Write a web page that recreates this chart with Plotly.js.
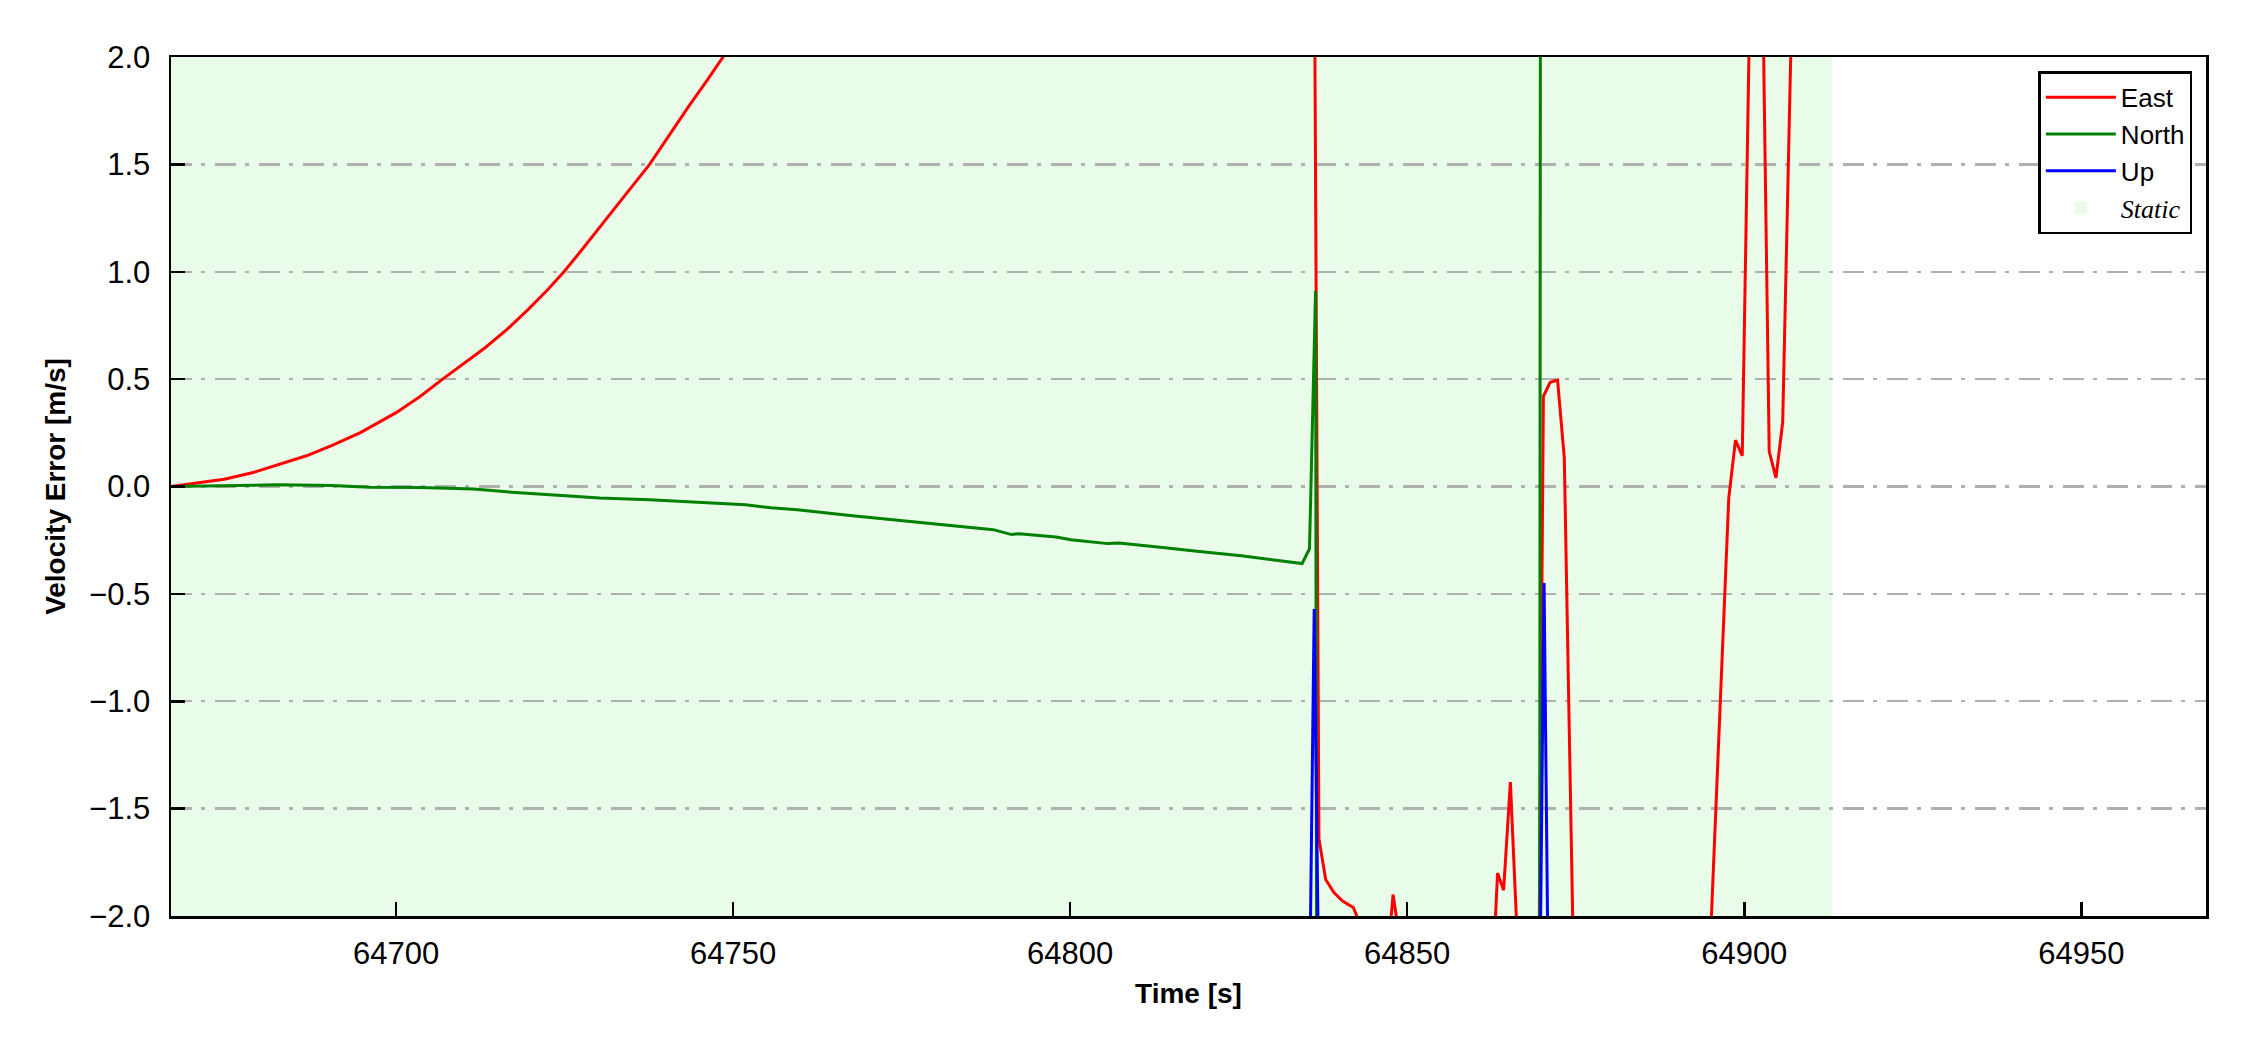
<!DOCTYPE html>
<html>
<head>
<meta charset="utf-8">
<script src="https://cdn.plot.ly/plotly-3.0.1.min.js"></script>
<style>html,body{margin:0;padding:0;background:#fff;}#chart{width:2250px;height:1050px;}</style>
</head>
<body>
<div id="chart"></div>
<script>
// ---- data ----
const tEast = [64666.6, 64670.0, 64674.5, 64678.8, 64682.5, 64686.7, 64690.5, 64694.7, 64700.0, 64703.5, 64706.9, 64710.0, 64713.2,
  64716.5, 64719.6, 64722.3, 64724.9, 64727.5, 64730.2, 64733.8, 64737.6, 64740.5, 64743.4, 64746.0, 64748.5, 64760.0, 64800.0, 64835.9,
  64836.9, 64837.9, 64839.1, 64840.4, 64842.0, 64843.8, 64846.5, 64847.9, 64849.3, 64862.5, 64863.4, 64864.3, 64865.3, 64866.6,
  64869.3, 64870.2, 64871.2, 64872.3, 64873.3, 64874.6, 64894.6, 64897.7, 64898.7, 64899.7, 64900.9, 64902.7, 64903.7, 64904.7, 64905.7, 64907.1, 64968.5];
const vEast = [0.000, 0.015, 0.034, 0.065, 0.100, 0.143, 0.192, 0.251, 0.344, 0.418, 0.500, 0.570, 0.646,
  0.733, 0.825, 0.910, 1.000, 1.100, 1.205, 1.350, 1.500, 1.635, 1.770, 1.885, 2.000, 2.600, 4.000, 4.500,
  -1.640, -1.830, -1.890, -1.930, -1.960, -2.100, -2.400, -1.900, -2.200, -2.400, -1.800, -1.880, -1.376, -2.300,
  -3.200, 0.420, 0.485, 0.496, 0.133, -2.100, -2.400, -0.054, 0.216, 0.143, 2.400, 2.400, 0.164, 0.040, 0.300, 2.300, 3.000];

const tNorth = [64666.6, 64674.5, 64682.5, 64690.4, 64696.1, 64703.5, 64711.5, 64717.7, 64724.5, 64730.2, 64737.6, 64746.1, 64751.8, 64755.6,
  64759.5, 64767.7, 64776.0, 64782.5, 64788.6, 64791.3, 64792.4, 64797.9, 64800.1, 64805.6, 64807.2, 64814.4, 64818.8, 64825.4, 64830.8,
  64834.4, 64835.5, 64836.4, 64837.4, 64869.2, 64870.2, 64968.5];
const vNorth = [0.000, 0.003, 0.008, 0.005, -0.003, -0.005, -0.012, -0.028, -0.043, -0.054, -0.062, -0.075, -0.085, -0.099,
  -0.108, -0.136, -0.163, -0.183, -0.201, -0.224, -0.220, -0.235, -0.248, -0.266, -0.263, -0.286, -0.302, -0.322, -0.344,
  -0.359, -0.290, 0.910, -20.0, -20.0, 20.0, 20.0];

const tUp = [64666.6, 64835.2, 64836.2, 64837.2, 64869.3, 64870.3, 64871.3, 64968.5];
const vUp = [-3.2, -3.2, -0.57, -3.2, -3.5, -0.45, -3.5, -3.5];

const staticStart = 64666.6;
const staticEnd = 64913.0;

const seriesNames = ['East', 'North', 'Up'];
const staticName = 'Static';

// ---- chart ----
const FONT = 'Liberation Sans, Arial, sans-serif';
const traces = [
  {x: tEast, y: vEast, name: seriesNames[0], type: 'scatter', mode: 'lines', line: {color: '#ff0000', width: 3}},
  {x: tNorth, y: vNorth, name: seriesNames[1], type: 'scatter', mode: 'lines', line: {color: '#008000', width: 3}},
  {x: tUp, y: vUp, name: seriesNames[2], type: 'scatter', mode: 'lines', line: {color: '#0000ff', width: 3}}
];

const layout = {
  width: 2250, height: 1050,
  margin: {l: 171, r: 44, t: 57, b: 134, pad: 0},
  paper_bgcolor: '#ffffff', plot_bgcolor: '#ffffff',
  font: {family: FONT, size: 31, color: '#000'},
  showlegend: true,
  legend: {
    x: 0.9933, y: 0.9833, xanchor: 'right', yanchor: 'top',
    bgcolor: '#ffffff', bordercolor: '#000000', borderwidth: 2.5,
    font: {family: FONT, size: 26, color: '#000'},
    tracegroupgap: 0, itemwidth: 70
  },
  xaxis: {
    range: [64666.6, 64968.5],
    tick0: 64700, dtick: 50, tickformat: 'd',
    ticks: 'inside', ticklen: 14, tickwidth: 2.5, tickcolor: '#000',
    showline: true, linecolor: '#000', linewidth: 2.5, mirror: true,
    showgrid: false, zeroline: false,
    tickfont: {family: FONT, size: 31},
    ticklabelstandoff: 8,
    title: {text: 'Time [s]', font: {family: FONT, size: 28, weight: 'bold'}, standoff: 14}
  },
  yaxis: {
    range: [-2, 2],
    tick0: 0, dtick: 0.5, tickformat: '.1f',
    ticks: 'inside', ticklen: 14, tickwidth: 2.5, tickcolor: '#000',
    showline: true, linecolor: '#000', linewidth: 2.5, mirror: true,
    showgrid: true, gridcolor: '#b0b0b0', gridwidth: 2.3, griddash: '21px,9px,4px,10px',
    zeroline: false,
    tickfont: {family: FONT, size: 31},
    ticklabelstandoff: 12,
    title: {text: 'Velocity Error [m/s]', font: {family: FONT, size: 28, weight: 'bold'}, standoff: 16}
  },
  shapes: [{
    type: 'rect', xref: 'x', yref: 'paper',
    x0: staticStart, x1: staticEnd, y0: 0, y1: 1,
    fillcolor: 'rgba(144,238,144,0.2)', line: {width: 0},
    layer: 'below',
    showlegend: true,
    name: '<span style="font-family:Liberation Serif;font-style:italic">' + staticName + '</span>'
  }]
};

Plotly.newPlot('chart', traces, layout, {staticPlot: true, displayModeBar: false});
</script>
</body>
</html>
